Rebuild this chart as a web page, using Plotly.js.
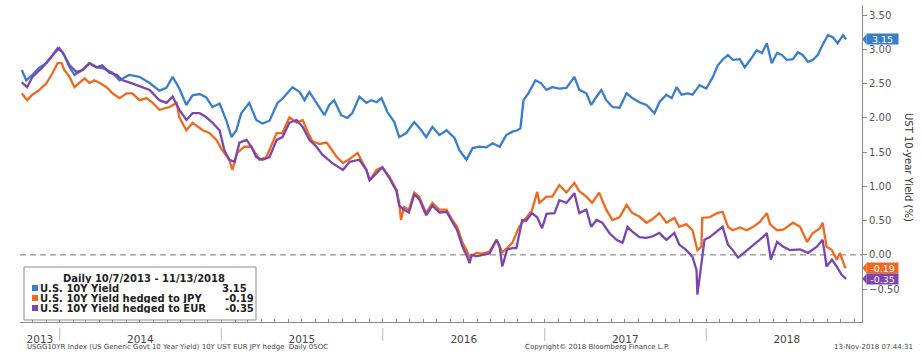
<!DOCTYPE html>
<html>
<head>
<meta charset="utf-8">
<script src="https://cdn.plot.ly/plotly-3.0.1.min.js"></script>
<style>
  html, body { margin: 0; padding: 0; background: #fff; }
  #chart { width: 922px; height: 354px; }
</style>
</head>
<body>
<div id="chart"></div>
<script>
// ---- Data ----
const usDates = ["2013-10-07","2013-10-17","2013-10-31","2013-11-16","2013-12-02","2013-12-20","2013-12-31",
"2014-01-11","2014-01-23","2014-02-03","2014-02-21","2014-03-09","2014-03-25","2014-04-07","2014-04-30","2014-05-16",
"2014-06-07","2014-06-30","2014-07-23","2014-08-14","2014-08-30","2014-09-13","2014-09-28","2014-10-14","2014-10-28",
"2014-11-13","2014-11-28","2014-12-12","2014-12-28","2015-01-12","2015-01-24","2015-02-04","2015-02-15","2015-03-05",
"2015-03-21","2015-04-04","2015-04-20","2015-05-08","2015-05-19","2015-06-11","2015-06-27","2015-07-08","2015-07-19",
"2015-08-04","2015-08-22","2015-09-02","2015-09-13","2015-09-29","2015-10-13","2015-10-24","2015-11-09","2015-11-25",
"2015-12-06","2015-12-18","2015-12-29","2016-01-11","2016-01-27","2016-02-07","2016-02-23","2016-03-12","2016-03-28",
"2016-04-08","2016-04-22","2016-05-08","2016-05-24","2016-06-11","2016-06-22","2016-07-08","2016-07-22","2016-08-06",
"2016-08-22","2016-09-05","2016-09-21","2016-10-06","2016-10-20","2016-10-31","2016-11-07","2016-11-14","2016-11-25",
"2016-12-11","2016-12-23","2017-01-05","2017-01-18","2017-02-03","2017-02-19","2017-03-09","2017-03-20","2017-04-05",
"2017-04-16","2017-04-28","2017-05-09","2017-05-20","2017-06-03","2017-06-19","2017-07-05","2017-07-18","2017-08-03",
"2017-08-19","2017-09-06","2017-09-17","2017-10-03","2017-10-15","2017-10-26","2017-11-06","2017-11-20","2017-12-01",
"2017-12-17","2018-01-01","2018-01-16","2018-01-27","2018-02-07","2018-02-19","2018-03-02","2018-03-18","2018-03-29",
"2018-04-14","2018-04-25","2018-05-07","2018-05-18","2018-05-29","2018-06-10","2018-06-21","2018-07-02","2018-07-16",
"2018-07-27","2018-08-07","2018-08-19","2018-08-30","2018-09-10","2018-09-21","2018-10-03","2018-10-14","2018-10-25",
"2018-11-06","2018-11-13"];
const usYield = [2.70,2.55,2.63,2.74,2.80,2.95,3.02,
2.92,2.74,2.63,2.70,2.80,2.74,2.73,2.66,2.55,
2.63,2.60,2.51,2.40,2.44,2.60,2.43,2.19,2.33,
2.35,2.30,2.16,2.21,1.97,1.72,1.82,2.07,2.22,
1.97,1.92,1.96,2.22,2.28,2.45,2.38,2.26,2.38,
2.22,2.04,2.19,2.26,2.04,2.00,2.07,2.31,2.22,
2.26,2.23,2.29,2.09,1.94,1.72,1.78,1.94,1.82,
1.72,1.87,1.75,1.82,1.71,1.53,1.39,1.56,1.58,
1.57,1.63,1.58,1.75,1.80,1.82,1.85,2.26,2.36,
2.55,2.51,2.41,2.45,2.43,2.44,2.60,2.41,2.36,
2.19,2.31,2.41,2.26,2.16,2.15,2.36,2.29,2.23,
2.19,2.07,2.23,2.34,2.29,2.45,2.34,2.36,2.34,
2.48,2.43,2.60,2.77,2.85,2.92,2.85,2.86,2.74,
2.88,2.99,2.95,3.09,2.80,2.95,2.92,2.85,2.86,
2.96,2.92,2.82,2.85,2.92,3.07,3.21,3.18,3.09,
3.21,3.15];

const jpyDates = ["2013-10-07","2013-10-19","2013-10-31","2013-11-16","2013-12-02","2013-12-16","2013-12-27",
"2014-01-05","2014-01-11","2014-01-23","2014-02-03","2014-02-14","2014-02-26","2014-03-09","2014-03-20","2014-04-01",
"2014-04-17","2014-04-30","2014-05-16","2014-06-01","2014-06-14","2014-06-30","2014-07-16","2014-07-30","2014-08-14",
"2014-09-06","2014-09-22","2014-09-28","2014-10-14","2014-10-28","2014-11-20","2014-12-05","2014-12-21","2015-01-03",
"2015-01-19","2015-01-26","2015-02-06","2015-02-22","2015-03-10","2015-03-28","2015-04-13","2015-05-06","2015-05-19",
"2015-06-04","2015-06-20","2015-07-04","2015-07-15","2015-07-26","2015-08-11","2015-08-27","2015-09-19","2015-10-03",
"2015-10-18","2015-11-05","2015-11-25","2015-12-02","2015-12-18","2015-12-31","2016-01-16","2016-02-01","2016-02-07",
"2016-02-11","2016-02-18","2016-02-29","2016-03-12","2016-03-23","2016-04-08","2016-04-22","2016-05-08","2016-05-24",
"2016-06-06","2016-06-17","2016-06-29","2016-07-08","2016-07-15","2016-07-30","2016-08-13","2016-08-29","2016-09-14",
"2016-09-21","2016-09-27","2016-10-08","2016-10-20","2016-11-04","2016-11-20","2016-12-03","2016-12-15","2016-12-20",
"2017-01-05","2017-01-18","2017-02-03","2017-02-19","2017-03-09","2017-03-20","2017-04-05","2017-04-18","2017-05-04",
"2017-05-20","2017-06-03","2017-06-19","2017-07-05","2017-07-18","2017-08-03","2017-08-19","2017-09-01","2017-09-17",
"2017-10-03","2017-10-21","2017-11-01","2017-11-17","2017-12-01","2017-12-12","2017-12-21","2017-12-23","2018-01-09",
"2018-01-25","2018-02-07","2018-02-19","2018-03-02","2018-03-18","2018-04-03","2018-04-17","2018-05-02","2018-05-18",
"2018-05-25","2018-06-10","2018-06-24","2018-07-16","2018-08-01","2018-08-17","2018-08-30","2018-09-15","2018-09-21",
"2018-09-30","2018-10-12","2018-10-23","2018-10-30","2018-11-10","2018-11-13"];
const jpyHedged = [2.36,2.26,2.34,2.41,2.51,2.66,2.80,
2.80,2.70,2.60,2.45,2.51,2.58,2.51,2.55,2.51,
2.45,2.36,2.29,2.36,2.36,2.26,2.29,2.22,2.12,
2.16,2.22,2.01,1.82,1.93,1.82,1.78,1.68,1.53,
1.39,1.24,1.49,1.58,1.58,1.39,1.43,1.78,1.78,
2.01,1.93,1.97,1.80,1.66,1.62,1.64,1.43,1.34,
1.40,1.49,1.24,1.09,1.24,1.28,1.14,0.95,0.76,
0.51,0.70,0.66,0.91,0.85,0.61,0.76,0.66,0.66,
0.51,0.41,0.18,0.07,-0.03,0.03,0.02,0.05,0.22,
0.12,0.04,0.10,0.18,0.41,0.55,0.65,0.92,0.76,
0.85,0.85,1.02,0.91,1.05,0.93,0.85,0.76,0.91,
0.66,0.51,0.55,0.73,0.61,0.56,0.47,0.52,0.61,
0.47,0.54,0.41,0.45,0.36,0.07,0.12,0.54,0.55,
0.61,0.63,0.41,0.36,0.40,0.36,0.41,0.48,0.61,
0.45,0.36,0.37,0.47,0.41,0.19,0.32,0.39,0.47,
0.12,0.07,-0.07,0.03,-0.17,-0.19];

const eurDates = ["2013-10-07","2013-10-19","2013-10-31","2013-11-23","2013-12-16","2013-12-27",
"2014-01-07","2014-01-23","2014-02-08","2014-02-21","2014-03-09","2014-03-25","2014-04-07","2014-04-23","2014-05-09",
"2014-05-23","2014-06-07","2014-06-23","2014-07-07","2014-07-23","2014-08-14","2014-08-30","2014-09-13","2014-09-28",
"2014-10-14","2014-10-28","2014-11-13","2014-11-28","2014-12-12","2014-12-28","2015-01-08","2015-01-19","2015-01-31",
"2015-02-11","2015-02-27","2015-03-10","2015-03-21","2015-04-04","2015-04-20","2015-05-06","2015-05-19","2015-06-04",
"2015-06-20","2015-07-04","2015-07-19","2015-08-04","2015-08-18","2015-09-09","2015-10-03","2015-10-18","2015-11-09",
"2015-11-25","2015-12-02","2015-12-18","2015-12-31","2016-01-16","2016-02-01","2016-02-07","2016-02-18","2016-02-29",
"2016-03-12","2016-03-23","2016-04-08","2016-04-22","2016-05-08","2016-05-24","2016-06-06","2016-06-17","2016-06-29",
"2016-07-08","2016-07-15","2016-07-20","2016-07-30","2016-08-13","2016-08-29","2016-09-14","2016-09-21","2016-09-27",
"2016-10-08","2016-10-20","2016-10-29","2016-11-11","2016-11-20","2016-12-03","2016-12-15","2016-12-26","2017-01-05",
"2017-01-23","2017-02-03","2017-02-19","2017-03-09","2017-03-20","2017-04-05","2017-04-16","2017-04-28","2017-05-11",
"2017-05-27","2017-06-12","2017-06-26","2017-07-07","2017-07-18","2017-08-03","2017-08-19","2017-09-01","2017-09-17",
"2017-10-03","2017-10-21","2017-11-01","2017-11-17","2017-12-01","2017-12-10","2017-12-12","2017-12-21","2017-12-28",
"2018-01-09","2018-01-25","2018-02-07","2018-02-19","2018-03-02","2018-03-14","2018-03-25","2018-04-10","2018-04-25",
"2018-05-09","2018-05-18","2018-05-27","2018-06-10","2018-06-24","2018-07-09","2018-08-01","2018-08-19","2018-09-08",
"2018-09-21","2018-09-30","2018-10-12","2018-10-23","2018-11-03","2018-11-13"];
const eurHedged = [2.52,2.45,2.60,2.74,2.92,3.02,
2.96,2.77,2.67,2.70,2.80,2.74,2.77,2.66,2.63,
2.55,2.52,2.48,2.44,2.41,2.26,2.22,2.31,2.12,
1.97,2.07,2.07,2.01,1.93,1.82,1.53,1.39,1.36,
1.64,1.68,1.58,1.43,1.39,1.43,1.68,1.72,1.93,
1.97,1.87,1.68,1.58,1.46,1.34,1.24,1.36,1.39,
1.24,1.09,1.20,1.28,1.12,0.93,0.72,0.66,0.62,
0.88,0.82,0.58,0.72,0.62,0.63,0.48,0.36,0.12,
0.00,-0.12,0.00,-0.02,0.00,0.02,0.22,0.12,-0.17,
0.08,0.10,0.10,0.51,0.50,0.61,0.55,0.39,0.60,
0.61,0.80,0.76,0.90,0.61,0.66,0.41,0.51,0.47,
0.32,0.22,0.18,0.41,0.34,0.26,0.25,0.27,0.32,
0.22,0.32,0.15,0.07,-0.03,-0.22,-0.58,-0.17,0.22,
0.26,0.34,0.41,0.15,0.07,-0.04,0.02,0.10,0.18,
0.26,0.32,-0.07,0.19,0.12,0.07,0.08,0.03,0.12,
0.22,-0.17,-0.07,-0.17,-0.29,-0.35];

const seriesNames = ["U.S. 10Y Yield", "U.S. 10Y Yield hedged to JPY", "U.S. 10Y Yield hedged to EUR"];
const lastValues = ["3.15", "-0.19", "-0.35"];
const yearLabels = ["2013", "2014", "2015", "2016", "2017", "2018"];
const yearLabelDates = ["2013-11-17", "2014-07-02", "2015-07-02", "2016-07-02", "2017-07-02", "2018-07-02"];
const yearStarts = ["2014-01-01", "2015-01-01", "2016-01-01", "2017-01-01", "2018-01-01"];
const legendTitle = "Daily 10/7/2013 - 11/13/2018";
const yAxisTitle = "UST 10-year Yield (%)";
const footerLeft = "USGG10YR Index (US Generic Govt 10 Year Yield) 10Y UST EUR JPY hedge  Daily 05OC";
const footerMid = "Copyright\u00A9 2018 Bloomberg Finance L.P.";
const footerRight = "13-Nov-2018 07:44:31";

// ---- Styling ----
const colors = ["#3a7ecb", "#ef6a1e", "#7b45ad"];
const FONT = "DejaVu Sans, Verdana, sans-serif";
const W = 922, H = 354;
const M = {l: 20, r: 60, t: 5, b: 32};
const PW = W - M.l - M.r, PH = H - M.t - M.b;
const px = x => (x - M.l) / PW;          // pixel -> paper x
const py = y => (H - M.b - y) / PH;       // pixel -> paper y

const xs = [usDates, jpyDates, eurDates];
const ys = [usYield, jpyHedged, eurHedged];
const traces = ys.map((v, i) => ({
  type: "scatter", mode: "lines", x: xs[i], y: v, name: seriesNames[i],
  line: {color: colors[i], width: 2.3}, showlegend: false, hoverinfo: "x+y"
}));

const shapes = [
  {type: "line", xref: "paper", yref: "y", x0: 0, x1: 1, y0: 0, y1: 0,
   line: {color: "#777", width: 1, dash: "6px,4px"}, layer: "below"}
];
yearStarts.forEach(d => shapes.push({
  type: "line", xref: "x", yref: "paper", x0: d, x1: d, y0: py(328), y1: py(341),
  line: {color: "#bbb", width: 1}
}));
// legend box
shapes.push({type: "rect", xref: "paper", yref: "paper", x0: px(24), x1: px(256), y0: py(320), y1: py(267),
  line: {color: "#8a8a8a", width: 1}, fillcolor: "#ffffff", layer: "above"});

const LF = {family: FONT, size: 10, color: "#222", weight: "bold"};
const annotations = [];
annotations.push({xref: "paper", yref: "paper", x: px(144), y: py(278), text: legendTitle, showarrow: false,
  font: LF, xanchor: "center", yanchor: "middle", height: 10, borderpad: 0});
const entryY = [288, 298, 308];
const valRight = [248, 255, 255];
seriesNames.forEach((n, i) => {
  shapes.push({type: "rect", xref: "paper", yref: "paper", x0: px(32), x1: px(38),
    y0: py(entryY[i] + 3), y1: py(entryY[i] - 3), line: {width: 0}, fillcolor: colors[i], layer: "above"});
  annotations.push({xref: "paper", yref: "paper", x: px(39), y: py(entryY[i]), text: n, showarrow: false,
    font: LF, xanchor: "left", yanchor: "middle", height: 10, borderpad: 0});
  annotations.push({xref: "paper", yref: "paper", x: px(valRight[i]), y: py(entryY[i]), text: lastValues[i], showarrow: false,
    font: LF, xanchor: "right", yanchor: "middle", height: 10, borderpad: 0});
  // value tags on the right axis
  const v = parseFloat(lastValues[i]);
  annotations.push({xref: "paper", yref: "y", x: 1, xshift: 4, y: v, text: lastValues[i], showarrow: false,
    xanchor: "left", yanchor: "middle", bgcolor: colors[i], width: 31, height: 10, borderpad: 0,
    font: {family: FONT, size: 9.5, color: "#fff"}, align: "center"});
  shapes.push({type: "path", xref: "paper", yref: "y",
    path: `M ${1 + 0.3/PW} ${v} L ${1 + 4.5/PW} ${v + 5/PH*4.63} L ${1 + 4.5/PW} ${v - 5/PH*4.63} Z`,
    line: {width: 0}, fillcolor: colors[i]});
});
annotations.push({xref: "paper", yref: "paper", x: px(908), y: py(167), text: yAxisTitle, textangle: 90,
  showarrow: false, font: {family: FONT, size: 10, color: "#333"}, xanchor: "center", yanchor: "middle"});
annotations.push({xref: "paper", yref: "paper", x: px(25), y: py(347), text: footerLeft, showarrow: false,
  font: {family: FONT, size: 7, color: "#444"}, xanchor: "left", yanchor: "middle"});
annotations.push({xref: "paper", yref: "paper", x: px(597), y: py(347), text: footerMid, showarrow: false,
  font: {family: FONT, size: 7, color: "#444"}, xanchor: "center", yanchor: "middle"});
annotations.push({xref: "paper", yref: "paper", x: px(915), y: py(347), text: footerRight, showarrow: false,
  font: {family: FONT, size: 7, color: "#444"}, xanchor: "right", yanchor: "middle"});

const layout = {
  width: W, height: H, margin: M, paper_bgcolor: "#fff", plot_bgcolor: "#fff",
  showlegend: false, font: {family: FONT},
  xaxis: {
    type: "date", range: ["2013-10-03", "2018-12-19"], showgrid: false, zeroline: false,
    showline: true, linecolor: "#8a8a8a", linewidth: 1,
    tickmode: "array", tickvals: yearLabelDates, ticktext: yearLabels, ticks: "",
    ticklabelstandoff: 7,
    tickfont: {family: FONT, size: 10.5, color: "#444"},
    minor: {ticks: "inside", dtick: "M1", tick0: "2014-01-01", ticklen: 3, tickcolor: "#8a8a8a", showgrid: false}
  },
  yaxis: {
    side: "right", range: [-0.98, 3.65], showgrid: false, zeroline: false,
    showline: true, linecolor: "#8a8a8a", linewidth: 1,
    tickmode: "linear", tick0: 0, dtick: 0.5, tickformat: ".2f",
    ticks: "outside", ticklen: 4, tickcolor: "#8a8a8a",
    tickfont: {family: FONT, size: 10, color: "#555"}
  },
  shapes: shapes, annotations: annotations
};
Plotly.newPlot("chart", traces, layout, {displayModeBar: false, staticPlot: true});
</script>
</body>
</html>
